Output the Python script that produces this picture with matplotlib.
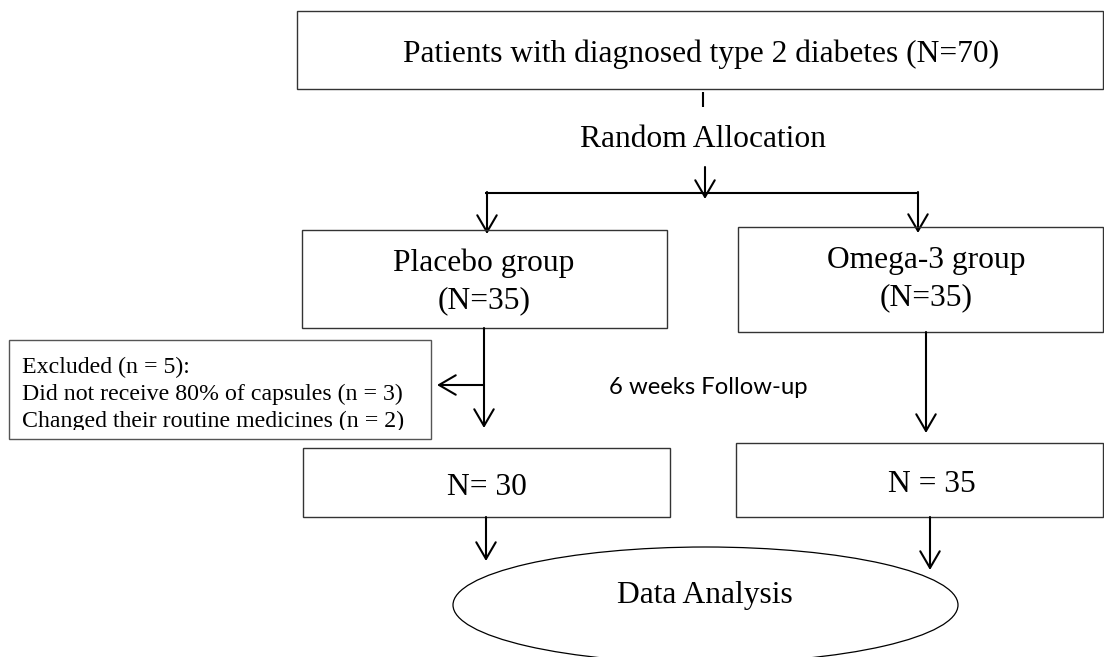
import matplotlib
matplotlib.use("Agg")
import matplotlib.pyplot as plt
from matplotlib.patches import Rectangle, Ellipse, FancyArrowPatch, ArrowStyle

# ---- content ----
top_label = "Patients with diagnosed type 2 diabetes (N=70)"
allocation_label = "Random Allocation"
group_names = ["Placebo group", "Omega-3 group"]
group_n = [35, 35]
final_labels = ["N= 30", "N = 35"]
excluded_total = 5
exclusion_reasons = ["Did not receive 80% of capsules", "Changed their routine medicines"]
exclusion_counts = [3, 2]
followup_label = "6 weeks Follow-up"
analysis_label = "Data Analysis"

# ---- figure (pixel coordinates, y downward) ----
W, H = 1104, 657
fig = plt.figure(figsize=(W / 100, H / 100), dpi=100)
ax = fig.add_axes([0, 0, 1, 1])
ax.set_xlim(0, W)
ax.set_ylim(H, 0)
ax.axis("off")

SERIF = "Liberation Serif"
FS = 22.7
BOX_EC = "#333333"
BOX_LW = 1.0
ARR_LW = 1.5
arrow_style = ArrowStyle("->", head_length=12.0, head_width=7.0)
RIGHT = 1103


def box(x0, y0, x1, y1, ec=BOX_EC):
    r = Rectangle((x0, y0), x1 - x0, y1 - y0, fill=False, ec=ec, lw=BOX_LW)
    ax.add_patch(r)
    return r


def line(xs, ys):
    ax.plot(xs, ys, color="black", lw=ARR_LW, solid_capstyle="butt")


def arrow(p0, p1):
    a = FancyArrowPatch(p0, p1, arrowstyle=arrow_style, mutation_scale=1,
                        color="black", lw=ARR_LW, shrinkA=0, shrinkB=0)
    ax.add_patch(a)


def serif_text(x, y, s, size=FS, ha="center", **kw):
    return ax.text(x, y, s, fontsize=size, family=SERIF, ha=ha, va="baseline", **kw)


# top box
box(297, 11, RIGHT, 89)
serif_text(701, 62, top_label)
line([703, 703], [92, 107])
serif_text(703, 147, allocation_label)

# branching
arrow((705, 167), (705, 199))
line([485, 918], [193, 193])
arrow((487, 192), (487, 234))
arrow((918, 192), (918, 233))

# group boxes
box(302, 230, 667, 328)
serif_text(484, 271, group_names[0])
serif_text(484, 308, f"(N={group_n[0]})")
box(738, 227, RIGHT, 332)
serif_text(926, 268, group_names[1])
serif_text(926, 305, f"(N={group_n[1]})")

# follow-up arrows
arrow((484, 328), (484, 428))
arrow((484, 385), (437, 385))
arrow((926, 332), (926, 433))
ax.text(708, 388, followup_label, fontsize=17.2, family="Lato",
        ha="center", va="center")

# excluded box
box(9, 340, 431, 439, ec="#555555")
EX_FS = 17.2
serif_text(22, 373, f"Excluded (n = {excluded_total}):", size=EX_FS, ha="left")
serif_text(22, 400, f"{exclusion_reasons[0]} (n = {exclusion_counts[0]})",
           size=EX_FS, ha="left")
t = serif_text(22, 427, f"{exclusion_reasons[1]} (n = {exclusion_counts[1]})",
               size=EX_FS, ha="left")
clip = Rectangle((0, 330), 440, 99.5, transform=ax.transData, visible=False)
ax.add_patch(clip)
t.set_clip_on(True)
t.set_clip_path(clip)

# final boxes
box(303, 448, 670, 517)
serif_text(487, 495, final_labels[0])
box(736, 443, RIGHT, 517)
serif_text(932, 492, final_labels[1])

# analysis
arrow((486, 517), (486, 561))
arrow((930, 517), (930, 570))
ax.add_patch(Ellipse((705.5, 605), 505, 116, fill=False, ec="black", lw=0.9))
serif_text(705, 603, analysis_label)

fig.savefig("out.png", dpi=100)
